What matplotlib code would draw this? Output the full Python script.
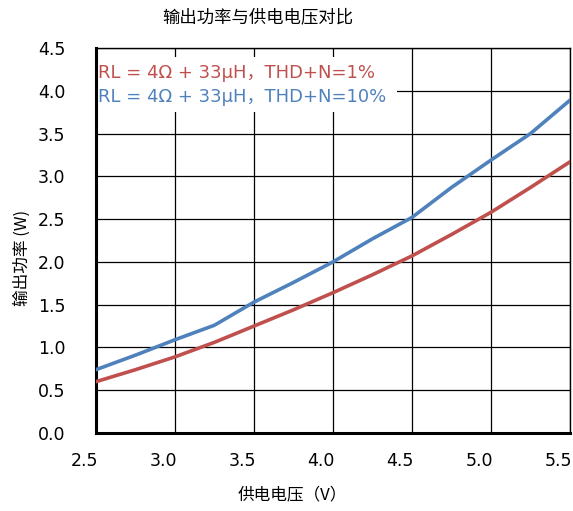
import matplotlib
matplotlib.use("Agg")
import matplotlib.pyplot as plt
import matplotlib.transforms as mtransforms
from matplotlib.patches import Rectangle

plt.rcParams["font.family"] = ["DejaVu Sans", "Noto Sans CJK SC"]

voltage = [2.5, 2.75, 3.0, 3.25, 3.5, 3.75, 4.0, 4.25, 4.5, 4.75, 5.0, 5.25, 5.5]
power_1pct = [0.60, 0.74, 0.89, 1.06, 1.25, 1.44, 1.64, 1.85, 2.07, 2.32, 2.58, 2.87, 3.17]
power_10pct = [0.74, 0.91, 1.09, 1.26, 1.53, 1.76, 2.00, 2.27, 2.52, 2.87, 3.19, 3.50, 3.89]

labels = ["RL = 4Ω + 33μH，THD+N=1%", "RL = 4Ω + 33μH，THD+N=10%"]
colors = ["#C0504D", "#4F81BD"]
x_ticks = [2.5, 3.0, 3.5, 4.0, 4.5, 5.0, 5.5]
y_ticks = [0.0, 0.5, 1.0, 1.5, 2.0, 2.5, 3.0, 3.5, 4.0, 4.5]

cjk = ["Noto Sans CJK SC", "DejaVu Sans"]

fig = plt.figure(figsize=(5.73, 5.11), dpi=100)
ax = fig.add_axes([96 / 573, 1 - 433 / 511, (570 - 96) / 573, (433 - 48) / 511])

ax.plot(voltage, power_1pct, color=colors[0], lw=2.6, zorder=3)
ax.plot(voltage, power_10pct, color=colors[1], lw=2.6, zorder=3)

ax.set_xlim(2.5, 5.5)
ax.set_ylim(0, 4.5)
ax.set_xticks(x_ticks)
ax.set_xticklabels([f"{t:.1f}" for t in x_ticks], ha="right")
ax.set_yticks(y_ticks)
ax.set_yticklabels([f"{t:.1f}" for t in y_ticks])
ax.tick_params(axis="both", length=0, labelsize=12.5)
ax.tick_params(axis="y", pad=22)
ax.tick_params(axis="x", pad=14)
# x tick labels end at their tick
shift = mtransforms.ScaledTranslation(2 / 100, 0, fig.dpi_scale_trans)
for lbl in ax.get_xticklabels():
    lbl.set_transform(lbl.get_transform() + shift)
ax.grid(True, color="black", lw=0.9)
ax.set_axisbelow(True)
for side in ["left", "bottom"]:
    ax.spines[side].set_linewidth(2.2)
for side in ["top", "right"]:
    ax.spines[side].set_linewidth(1.0)

# legend area (white box over the grid)
ax.add_patch(Rectangle((0, 0.834), 0.635, 0.143, transform=ax.transAxes,
                       facecolor="white", edgecolor="none", zorder=2))
ax.text(0.004, 0.935, labels[0], transform=ax.transAxes, color=colors[0],
        fontsize=13, va="center", ha="left", zorder=4)
ax.text(0.004, 0.873, labels[1], transform=ax.transAxes, color=colors[1],
        fontsize=13, va="center", ha="left", zorder=4)

fig.text(258 / 573, 1 - 17 / 511, "输出功率与供电电压对比", ha="center", va="center",
         fontsize=12.5, family=cjk)
fig.text(292 / 573, 1 - 495 / 511, "供电电压（V）", ha="center", va="center",
         fontsize=12, family=cjk)
fig.text(22 / 573, 1 - 258 / 511, "输出功率 (W)", ha="center", va="center",
         rotation=90, fontsize=12, family=cjk)

fig.savefig("out.png", dpi=100)
